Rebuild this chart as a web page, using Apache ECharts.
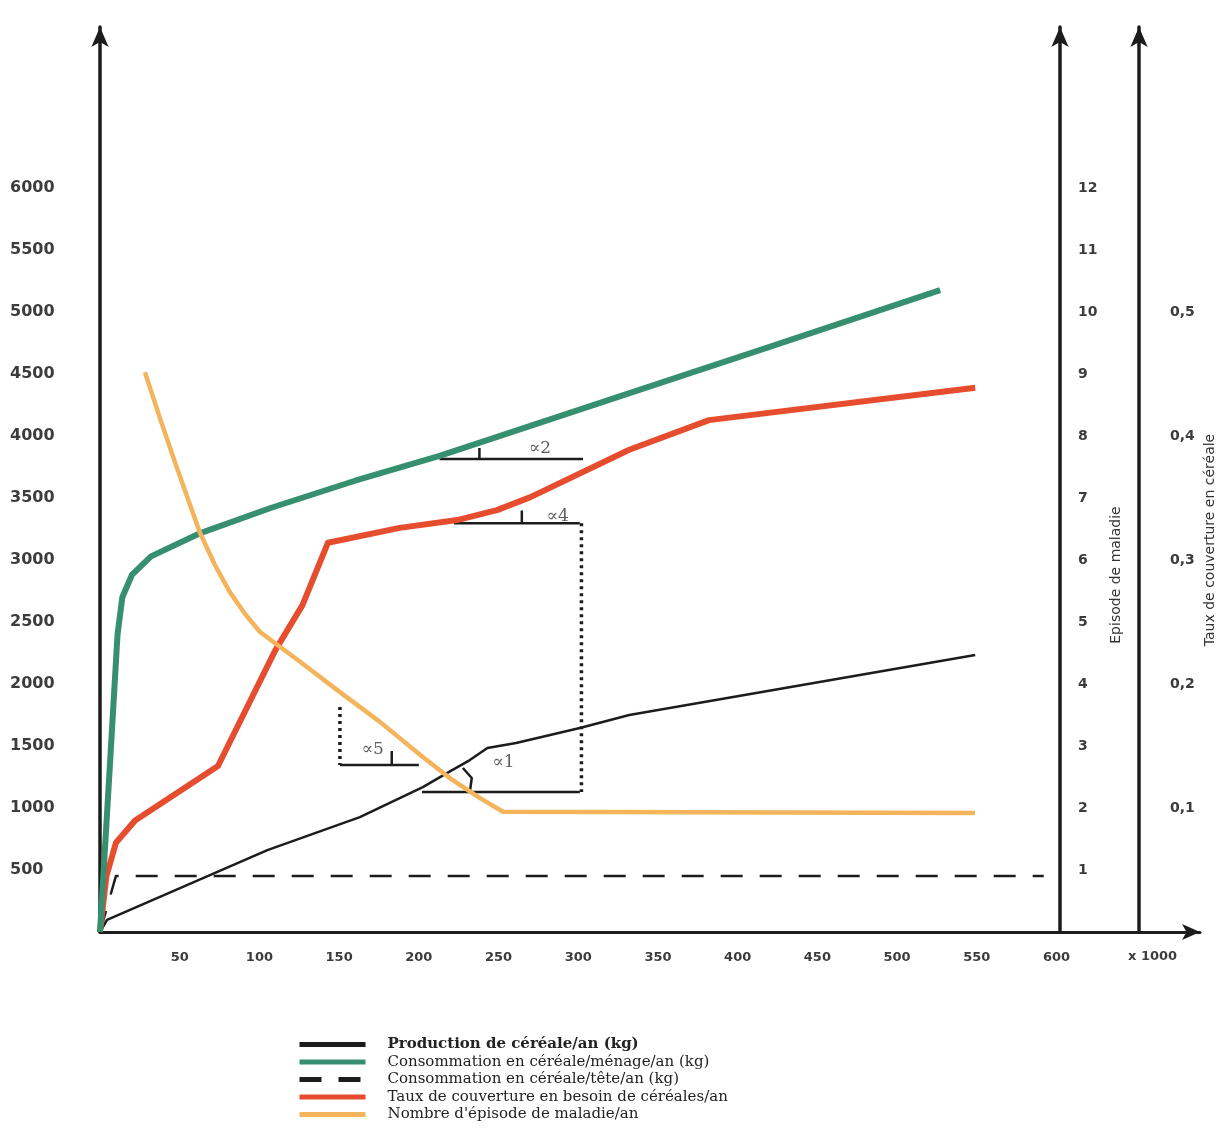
<!DOCTYPE html>
<html>
<head>
<meta charset="utf-8">
<script src="https://cdn.jsdelivr.net/npm/echarts@6/dist/echarts.min.js"></script>
<style>html,body{margin:0;padding:0;background:#fff}#c{width:1221px;height:1147px}</style>
</head>
<body>
<div id="c"></div>
<script>
// ---- tick labels ----
const xTickLabels = [50,100,150,200,250,300,350,400,450,500,550,600];
const kgTickLabels = [500,1000,1500,2000,2500,3000,3500,4000,4500,5000,5500,6000];
const episodeTickLabels = [1,2,3,4,5,6,7,8,9,10,11,12];
const tauxTickLabels = [0.1,0.2,0.3,0.4,0.5];

// ---- series (x in thousands, y in kg / episodes) ----
const production = [[0,0],[4.4,97],[105,661],[163,927],[202.5,1169],[217.6,1282],[232,1387],[243,1484],[261,1524],[301,1645],[332,1750],[549,2234]];
const consoMenage = [[0,0],[6,1300],[11,2400],[14,2700],[20,2880],[32,3030],[63,3218],[107,3420],[160,3640],[213,3840],[307,4240],[420,4720],[527,5177]];
const consoTete = [[0,0],[10,452],[592,452]];
const tauxCouverture = [[0,0],[4,450],[10,720],[22,900],[74,1339],[110,2274],[127,2637],[143,3140],[188,3260],[224,3323],[249,3403],[270,3508],[332,3890],[382,4129],[549,4390]];
const episodesMaladie = [[28.2,9.03],[37.6,8.29],[47,7.58],[56.5,6.89],[62.7,6.44],[72.1,5.92],[81.5,5.48],[91,5.13],[100.4,4.84],[125.5,4.36],[150.5,3.87],[175.6,3.39],[200.7,2.86],[219.6,2.48],[238.4,2.16],[252.8,1.94],[548.9,1.92]];

// ---- slope-angle annotations ----
const alpha2Line = [[213,3815],[303,3815]];
const alpha4Line = [[222,3298],[301,3298]];
const alpha1Line = [[202,1129],[301,1129]];
const alpha5Line = [[150.5,1347],[200,1347]];
const dotRight = [[302,3298],[302,1129]];
const dotLeft = [[150.5,1815],[150.5,1347]];
const arc2 = [[238,3815],[238,3905]];
const arc4 = [[264.6,3298],[264.6,3400]];
const arc1 = [[227.6,1323],[233.2,1242],[232,1129]];
const arc5 = [[183,1347],[183,1460]];
const alphaLabels = [[276,3903,'∝2'],[287,3347,'∝4'],[253,1363,'∝1'],[171,1468,'∝5']];

const names = {
  prod: 'Production de céréale/an (kg)',
  men: 'Consommation en céréale/ménage/an (kg)',
  tete: 'Consommation en céréale/tête/an (kg)',
  taux: 'Taux de couverture en besoin de céréales/an',
  ep: "Nombre d'épisode de maladie/an"
};

const AX = '#1c1c1c';
const labelFont = {fontFamily:'DejaVu Sans', fontWeight:'bold', color:'#3c3c3c'};

function annot(data, dotted){
  return {type:'line', data:data, yAxisIndex:0, symbol:'none', silent:true, z:1,
    lineStyle:{color:'#1c1c1c', width: dotted?3.5:2.5, type: dotted?[3,4]:'solid'}};
}

const chart = echarts.init(document.getElementById('c'));
chart.setOption({
  backgroundColor:'#ffffff',
  animation:false,
  grid:{left:100, right:21, top:27, bottom:215},
  xAxis:{type:'value', min:0, max:690, interval:50,
    axisLine:{show:true, lineStyle:{color:AX, width:3}, symbol:['none','arrow'], symbolSize:[12,18]},
    axisTick:{show:false}, splitLine:{show:false},
    axisLabel:Object.assign({margin:19, fontSize:13,
      formatter:v => xTickLabels.indexOf(v) >= 0 ? String(v) : ''}, labelFont)
  },
  yAxis:[
    {type:'value', min:0, max:7300, interval:500, position:'left',
      axisLine:{show:true, onZero:false, lineStyle:{color:AX, width:3.5}, symbol:['none','arrow'], symbolSize:[13,20]},
      axisTick:{show:false}, splitLine:{show:false},
      axisLabel:Object.assign({align:'left', margin:90, fontSize:16,
        formatter:v => kgTickLabels.indexOf(v) >= 0 ? String(v) : ''}, labelFont)
    },
    {type:'value', min:0, max:14.6, interval:1, position:'right', offset:-140,
      axisLine:{show:true, onZero:false, lineStyle:{color:AX, width:3.5}, symbol:['none','arrow'], symbolSize:[13,20]},
      axisTick:{show:false}, splitLine:{show:false},
      axisLabel:Object.assign({margin:18, fontSize:14,
        formatter:v => episodeTickLabels.indexOf(Math.round(v*1000)/1000) >= 0 ? String(Math.round(v)) : ''}, labelFont)
    },
    {type:'value', min:0, max:0.73, interval:0.1, position:'right', offset:-61,
      axisLine:{show:true, onZero:false, lineStyle:{color:AX, width:3.5}, symbol:['none','arrow'], symbolSize:[13,20]},
      axisTick:{show:false}, splitLine:{show:false},
      axisLabel:Object.assign({margin:31, fontSize:14,
        formatter:v => {const r = Math.round(v*10)/10; return tauxTickLabels.indexOf(r) >= 0 ? r.toFixed(1).replace('.',',') : '';}}, labelFont)
    }
  ],
  legend:{orient:'vertical', left:292, top:1032, itemWidth:66, itemHeight:13, itemGap:2.5,
    selectedMode:false,
    itemStyle:{opacity:0},
    lineStyle:{width:5},
    textStyle:{fontFamily:'DejaVu Serif', fontSize:15, lineHeight:14, color:'#222', padding:[0,0,0,17]},
    data:[
      {name:names.prod, textStyle:{fontWeight:'bold'}},
      {name:names.men}, {name:names.tete}, {name:names.taux}, {name:names.ep}
    ]
  },
  graphic:[
    {type:'text', left:1128, top:950, style:{text:'x 1000', font:'bold 13px "DejaVu Sans"', fill:'#3c3c3c'}},
    {type:'text', x:1116, y:575, rotation:Math.PI/2, style:{text:'Episode de maladie', font:'14px "DejaVu Sans"', fill:'#333', align:'center', verticalAlign:'middle'}},
    {type:'text', x:1210, y:540, rotation:Math.PI/2, style:{text:'Taux de couverture en céréale', font:'14px "DejaVu Sans"', fill:'#333', align:'center', verticalAlign:'middle'}}
  ],
  series:[
    annot(alpha2Line), annot(alpha4Line), annot(alpha1Line), annot(alpha5Line),
    annot(dotRight, true), annot(dotLeft, true),
    annot(arc2), annot(arc4), annot(arc1), annot(arc5),
    {type:'scatter', data:alphaLabels, yAxisIndex:0, symbolSize:0, silent:true, z:3,
      itemStyle:{color:'rgba(0,0,0,0)'},
      label:{show:true, position:'inside', formatter:p => p.data[2], fontFamily:'DejaVu Serif', fontSize:17, color:'#333'}},
    {name:names.tete, type:'line', data:consoTete, yAxisIndex:0, symbol:'none',
      lineStyle:{color:'#1c1c1c', width:2.5, type:[22,17]}, itemStyle:{color:'#1c1c1c'}},
    {name:names.prod, type:'line', data:production, yAxisIndex:0, symbol:'none',
      lineStyle:{color:'#1c1c1c', width:2.5}, itemStyle:{color:'#1c1c1c'}},
    {name:names.taux, type:'line', data:tauxCouverture, yAxisIndex:0, symbol:'none',
      lineStyle:{color:'#e64d2e', width:6, join:'round'}, itemStyle:{color:'#e64d2e'}},
    {name:names.men, type:'line', data:consoMenage, yAxisIndex:0, symbol:'none',
      lineStyle:{color:'#36906f', width:6, join:'round'}, itemStyle:{color:'#36906f'}},
    {name:names.ep, type:'line', data:episodesMaladie, yAxisIndex:1, symbol:'none',
      lineStyle:{color:'#f3b45c', width:4.5, join:'round'}, itemStyle:{color:'#f3b45c'}}
  ]
});
</script>
</body>
</html>
